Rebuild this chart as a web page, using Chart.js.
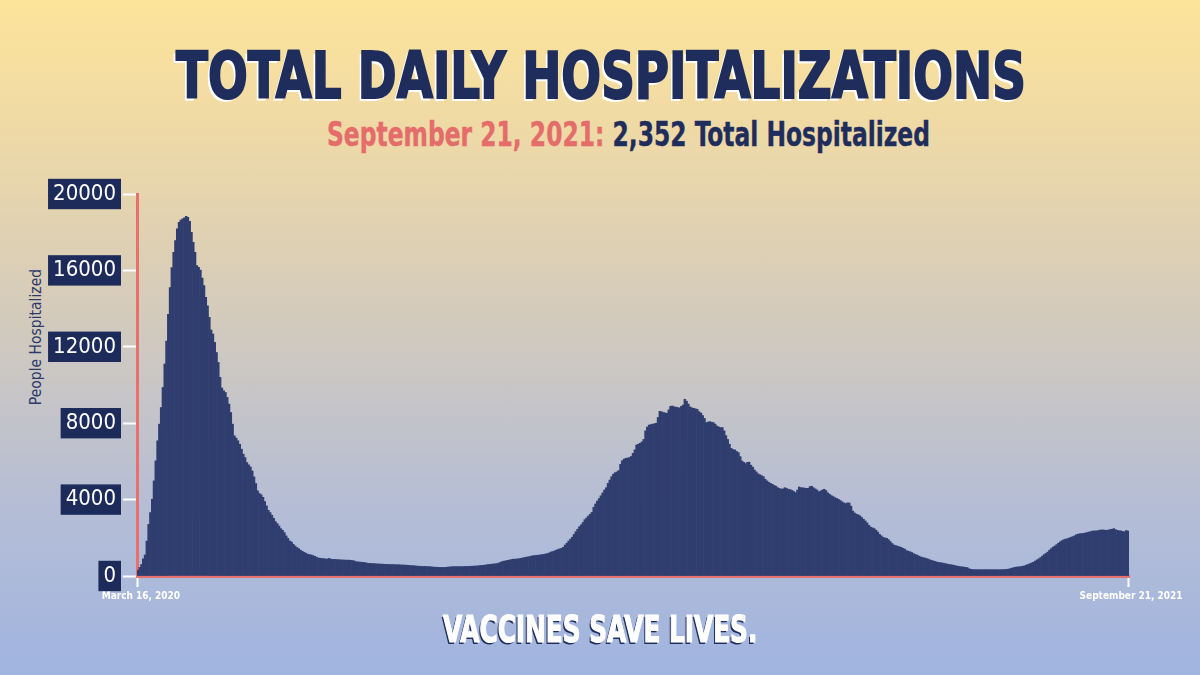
<!DOCTYPE html>
<html>
<head>
<meta charset="utf-8">
<script src="https://cdn.jsdelivr.net/npm/chart.js@4.4.1/dist/chart.umd.min.js"></script>
<style>
  html, body { margin: 0; padding: 0; }
  #page {
    position: relative; width: 1200px; height: 675px; overflow: hidden;
    background: linear-gradient(to bottom, #fde49a 0%, #ecd8a8 22%, #d2cabd 48%, #b6bed5 74%, #a0b4e0 100%);
    font-family: "Liberation Sans Narrow", "DejaVu Sans Condensed", "Roboto", sans-serif;
  }
  .fit { position: absolute; white-space: nowrap; transform-origin: 0 0; line-height: 1; }
  #title { font-weight: 700; font-size: 64px; color: #1f2d5c; -webkit-text-stroke-width: 2px; text-shadow: -3px 3px 0 #fff; }
  #subtitle { font-weight: 700; font-size: 33px; color: #1f2d5c; -webkit-text-stroke-width: 0.4px; }
  #subtitle .date { color: #e46c6a; }
  #footer { font-weight: 700; font-size: 37px; color: #fff; -webkit-text-stroke-width: 1.2px; text-shadow: -2px 2px 0 #1f2d5c; }
  #ytitle {
    position: absolute; left: 36px; top: 337px; white-space: nowrap;
    transform: translate(-50%, -50%) rotate(-90deg);
    font-size: 15.5px; color: #2b3a6b;
  }
  #chart { position: absolute; left: 0; top: 0; }
</style>
</head>
<body>
<div id="page">
  <div id="title" class="fit">TOTAL DAILY HOSPITALIZATIONS</div>
  <div id="subtitle" class="fit"><span class="date">September 21, 2021:</span> 2,352 Total Hospitalized</div>
  <div id="ytitle">People Hospitalized</div>
  <canvas id="chart" width="1200" height="675"></canvas>
  <div id="footer" class="fit">VACCINES SAVE LIVES.</div>
</div>
<script>
// daily totals, March 16 2020 -> September 21 2021
const spring2020 = [
  300, 450, 600, 900, 1100, 1830, 2700, 3320, 4020, 4980, 6030, 7080, 7950, 8820, 9870, 11100,
  12300, 13700, 15100, 16150, 16950, 17560, 18170, 18520, 18640, 18700, 18750, 18830, 18780, 18570,
  17990, 17470, 16950, 16250, 16160, 16020, 15600, 15200, 14590, 14150, 13540, 12880, 12670, 12230,
  11700, 11180, 10400, 9840, 9700, 9610, 9350, 9000, 8560, 7950, 7340, 7220, 7080, 6900, 6640, 6380,
  6200, 5940, 5820, 5710, 5500, 5190, 4840, 4460, 4320, 4250, 4120, 3900, 3670, 3440, 3320, 3180,
  3020, 2850, 2740, 2620, 2480, 2390, 2270, 2100, 1970, 1830, 1780, 1660, 1570, 1490, 1430, 1350,
  1290, 1240, 1190, 1140, 1120, 1100, 1070, 1030, 980, 940, 930, 910, 910, 890, 890
];
const summerFall2020 = [
  920, 880, 870, 870, 860, 860, 850, 840, 840, 830, 830, 830, 820, 810, 790, 750, 740, 730, 720, 710,
  700, 680, 660, 660, 650, 650, 640, 630, 630, 620, 620, 610, 610, 600, 600, 600, 600, 590, 590, 590,
  580, 580, 570, 570, 560, 550, 540, 540, 530, 520, 510, 510, 500, 500, 500, 490, 490, 480, 470, 460,
  460, 450, 450, 450, 450, 450, 460, 470, 480, 490, 490, 490, 490, 490, 490, 490, 500, 500, 500, 510,
  510, 520, 520, 530, 540, 550, 560, 570, 580, 600, 610, 620, 630, 640, 650, 680, 720, 760, 780, 800,
  820, 840, 860, 880, 880, 890, 900, 920, 940, 960, 980, 1000, 1010, 1040, 1060, 1070, 1080, 1090,
  1100, 1120, 1130, 1150, 1170, 1200, 1250, 1280, 1310, 1350, 1390, 1420, 1450, 1500, 1620, 1720, 1830
];
const winter2021 = [
  1930, 2030, 2180, 2320, 2450, 2580, 2680, 2800, 2950, 3040, 3140, 3230, 3330, 3600, 3770, 3920,
  4050, 4200, 4350, 4500, 4620, 4850, 5020, 5200, 5330, 5410, 5450, 5520, 5850, 6040, 6120, 6160,
  6180, 6200, 6260, 6420, 6600, 6860, 6900, 6950, 7020, 7150, 7600, 7800, 7900, 7930, 7950, 7970,
  8000, 8300, 8620, 8600, 8560, 8540, 8520, 8700, 8880, 8900, 8860, 8840, 8820, 8800, 8880, 8950,
  9250, 9150, 9000, 8850, 8800, 8780, 8750, 8720, 8600, 8530, 8400, 8250, 8030, 8060, 8080, 8050,
  8030, 7950, 7850, 7800, 7770, 7770, 7600, 7350, 7150, 6900, 6680, 6620, 6600, 6520, 6460, 6250,
  6020, 5950, 5880, 5950, 5960, 5800, 5700, 5550, 5450, 5350, 5300, 5250, 5200, 5060, 4980, 4900,
  4850, 4800, 4740, 4700, 4620, 4580, 4550, 4560, 4620, 4580, 4540, 4520, 4480, 4420, 4360, 4500, 4660
];
const springSummer2021 = [
  4620, 4620, 4600, 4590, 4590, 4680, 4700, 4620, 4560, 4500, 4410, 4450, 4500, 4540, 4470, 4350,
  4280, 4210, 4160, 4100, 4060, 4010, 3950, 3880, 3830, 3790, 3830, 3820, 3660, 3400, 3300, 3240,
  3200, 3150, 3060, 2970, 2880, 2780, 2650, 2560, 2520, 2480, 2400, 2300, 2180, 2100, 2020, 1990,
  1970, 1900, 1800, 1700, 1620, 1590, 1560, 1530, 1500, 1450, 1410, 1330, 1300, 1270, 1230, 1170,
  1130, 1090, 1040, 1000, 970, 950, 920, 890, 850, 820, 790, 760, 730, 710, 700, 680, 660, 640, 620,
  600, 590, 570, 550, 525, 510, 490, 480, 470, 455, 440, 380, 350, 340, 330, 330, 330, 330, 330, 330,
  330, 330, 330, 330, 330, 330, 330, 330, 330, 330, 335, 340, 345, 360, 380, 410, 440, 460, 470, 480,
  490, 510, 530, 570, 600, 640, 680, 720, 780, 840, 900, 960, 1040, 1120, 1180, 1250, 1350, 1430,
  1510, 1570, 1640, 1720, 1790, 1850, 1900, 1930, 1950, 1990, 2020, 2060, 2100, 2160, 2190, 2210,
  2220, 2230, 2250, 2270, 2300, 2320, 2350, 2360, 2360, 2370, 2400, 2410, 2410, 2400, 2390, 2410,
  2430, 2450, 2480, 2430, 2390, 2370, 2360, 2330, 2320, 2380, 2352
];
const hospitalized = [...spring2020, ...summerFall2020, ...winter2021, ...springSummer2021];

const startDate = new Date(2020, 2, 16);
const days = hospitalized.map((_, i) => {
  const d = new Date(startDate);
  d.setDate(d.getDate() + i);
  return d.toDateString();
});
const xTickLabels = ['March 16, 2020', 'September 21, 2021'];
const yTickValues = [0, 4000, 8000, 12000, 16000, 20000];

const NAVY = '#1d2b5b';
const RED = '#e8716d';
const FONT = '"Liberation Sans Narrow", "DejaVu Sans Condensed", "Roboto", sans-serif';
const last = hospitalized.length - 1;

new Chart(document.getElementById('chart'), {
  type: 'bar',
  data: {
    labels: days,
    datasets: [{
      data: hospitalized,
      backgroundColor: '#2f3d6f',
      borderWidth: 0,
      barPercentage: 1,
      categoryPercentage: 1
    }]
  },
  options: {
    responsive: false,
    animation: false,
    layout: { padding: { top: 194, right: 71, bottom: 59, left: 0 } },
    plugins: { legend: { display: false }, tooltip: { enabled: false } },
    scales: {
      x: {
        afterFit: s => { s.height = 40; },
        border: { color: RED, width: 3 },
        grid: {
          drawOnChartArea: false,
          offset: false,
          tickLength: 11,
          tickWidth: 2,
          tickColor: ctx => (ctx.index === 0 || ctx.index === last) ? '#ffffff' : 'rgba(0,0,0,0)'
        },
        ticks: {
          autoSkip: false,
          maxRotation: 0,
          padding: 3,
          labelOffset: 3,
          color: '#ffffff',
          font: { family: FONT, size: 10, weight: 'bold' },
          callback: (v, i) => i === 0 ? xTickLabels[0] : (i === last ? xTickLabels[1] : '')
        }
      },
      y: {
        min: 0,
        max: 20000,
        afterFit: s => { s.width = 137; },
        afterBuildTicks: s => { s.ticks = yTickValues.map(v => ({ value: v })); },
        border: { color: RED, width: 3 },
        grid: { drawOnChartArea: false, tickLength: 14, tickWidth: 2, tickColor: '#ffffff' },
        ticks: {
          padding: 7,
          color: '#ffffff',
          font: { family: FONT, size: 22 },
          showLabelBackdrop: true,
          backdropColor: NAVY,
          backdropPadding: { x: 5, y: 2 },
          callback: v => String(v)
        }
      }
    }
  }
});

// squeeze the headline texts to the widths of the original artwork
function place(id, left, top, width) {
  const el = document.getElementById(id);
  el.style.left = left + 'px';
  el.style.top = top + 'px';
  el.style.transform = 'scaleX(' + (width / el.scrollWidth) + ')';
}
place('title', 176, 44, 850);
place('subtitle', 327, 118, 603);
place('footer', 443, 611, 314);
</script>
</body>
</html>
